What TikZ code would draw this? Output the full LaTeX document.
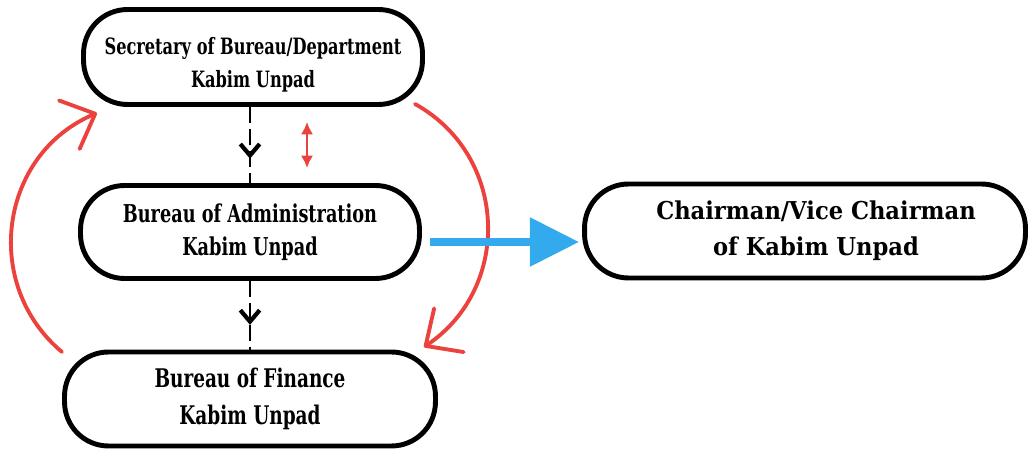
\documentclass[tikz,border=0pt]{standalone}
\usepackage{fontspec}
\setmainfont{DejaVu Serif Condensed}[FakeStretch=0.8]
\newfontfamily\widefont{DejaVu Serif}[FakeStretch=0.92]
\usetikzlibrary{arrows.meta,decorations.markings}
\definecolor{loopred}{RGB}{236,66,62}
\definecolor{flowblue}{RGB}{52,170,238}
\tikzset{
  unit box/.style={draw=black, line width=2.8pt, rounded corners=0.88cm, fill=white,
    align=center, inner sep=0pt, font=\fontsize{14}{19}\selectfont\bfseries},
  lead box/.style={unit box, font=\widefont\fontsize{14}{20.5}\selectfont\bfseries},
  chain/.style={dashed, dash pattern=on 9pt off 3.5pt, line width=1.7pt,
    postaction={decorate, decoration={markings,
      mark=at position #1 with {\arrow[solid]{Straight Barb[length=6.5pt,width=11pt,line width=2.4pt]}}}}},
  loop/.style={draw=loopred, line width=2.2pt, line cap=round,
    -{Straight Barb[length=16pt,width=30pt,line width=2.2pt,round]}},
  swap/.style={draw=loopred, line width=1.5pt, {Latex[length=7pt,width=7pt]}-{Latex[length=7pt,width=7pt]}},
  report/.style={draw=flowblue, line width=4.5pt, -{Triangle[length=28pt,width=27pt]}}
}
\begin{document}
\begin{tikzpicture}[x=0.02cm, y=-0.02cm]
  \useasboundingbox (0,0) rectangle (1032,452);
  % the chain of bureaus
  \node[unit box, minimum width=6.78cm, minimum height=1.9cm,
        font=\fontsize{12.8}{18.8}\selectfont\bfseries] (sec) at (253,57)
    {\rule{0pt}{4pt}\\[-4pt]Secretary of Bureau/Department\\Kabim Unpad};
  \node[unit box, minimum width=6.78cm, minimum height=1.86cm] (adm) at (250,232)
    {Bureau of Administration\\Kabim Unpad};
  \node[unit box, minimum width=7.42cm, minimum height=1.88cm,
        font=\fontsize{14.6}{21}\selectfont\bfseries] (fin) at (250,399)
    {Bureau of Finance\\Kabim Unpad};
  \node[lead box, minimum width=8.82cm, minimum height=1.88cm] (lead) at (805,231)
    {\hspace*{0.44cm}Chairman/Vice Chairman\\\hspace*{0.44cm}of Kabim Unpad};
  % dashed hand-over lines
  \draw[chain=0.68] (sec.south -| 250,0) -- (adm.north);
  \draw[chain=0.64] (adm.south) -- (fin.north);
  % two-way exchange marker
  \coordinate (swaptop) at (307,122);
  \coordinate (swapbot) at (307,168);
  \draw[swap] (swaptop) -- (swapbot);
  % return loops
  \coordinate (lstart) at (62,352);
  \coordinate (lend) at (97,113);
  \coordinate (rstart) at (415,104);
  \coordinate (rend) at (424,347);
  \draw[loop] (lstart) to[out=140, in=203, looseness=1.12] (lend);
  \draw[loop] (rstart) to[out=-29, in=34, looseness=1.12] (rend);
  % report to the chair
  \coordinate (repstart) at (430,242);
  \coordinate (repend) at (579,242);
  \draw[report] (repstart) -- (repend);
\end{tikzpicture}
\end{document}
